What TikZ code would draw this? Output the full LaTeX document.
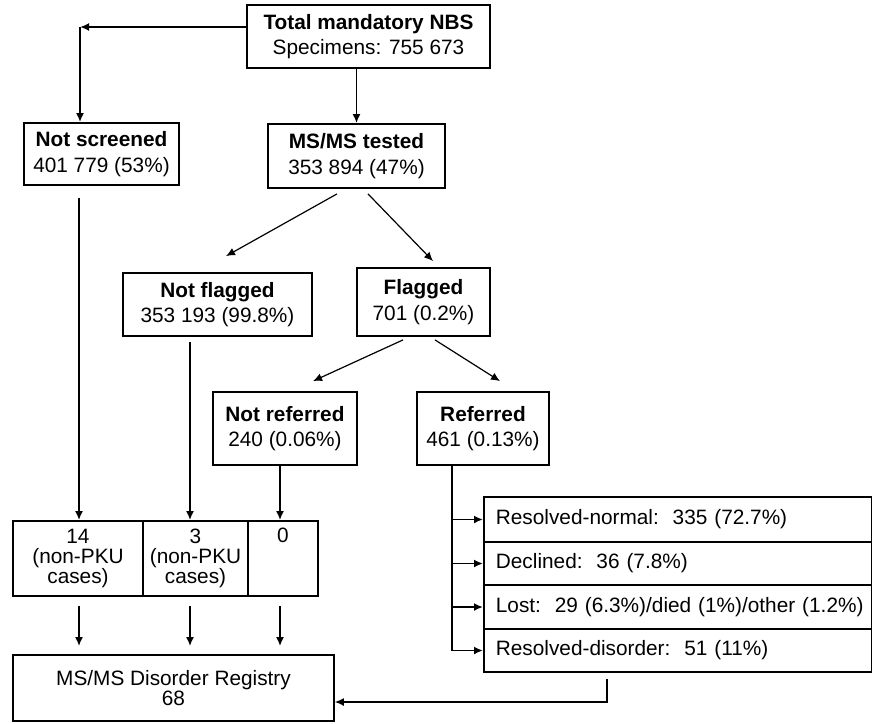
\documentclass[tikz,border=0pt]{standalone}
\usepackage{fontspec}
\setmainfont{Liberation Sans}
\usetikzlibrary{arrows.meta,calc}

\begin{document}
\begin{tikzpicture}[x=0.5pt, y=-0.5pt,
    font=\fontsize{10.4}{12.8}\selectfont,
    box/.style={draw, line width=0.9pt, inner sep=0pt, align=center},
    arr/.style={-{Latex[length=4.5pt,width=4pt]}, line width=0.9pt},
    darr/.style={-{Latex[length=4.5pt,width=4pt]}, line width=0.6pt}]
    \useasboundingbox (0,0) rectangle (872,723);

    % Draw screening boxes
    \node [box, minimum width=121.5pt, minimum height=31.5pt] (tot) at (368.5,36.5) {\textbf{Total mandatory NBS}\\Specimens: 755 673};
    \node [box, minimum width=77.5pt, minimum height=31pt] (nsc) at (101.5,154) {\textbf{Not screened}\\401 779 (53\%)};
    \node [box, minimum width=88.5pt, minimum height=32pt] (msms) at (356.5,156) {\textbf{MS/MS tested}\\353 894 (47\%)};
    \node [box, minimum width=94.5pt, minimum height=31.5pt] (nfl) at (217.5,304.5) {\textbf{Not flagged}\\353 193 (99.8\%)};
    \node [box, minimum width=66.5pt, minimum height=34pt] (fl) at (423.5,302) {\textbf{Flagged}\\701 (0.2\%)};
    \node [box, minimum width=72pt, minimum height=36.5pt] (nrf) at (285,428.5) {\textbf{Not referred}\\240 (0.06\%)};
    \node [box, minimum width=66pt, minimum height=36.5pt] (rf) at (483,428.5) {\textbf{Referred}\\461 (0.13\%)};

    % Draw case cells and registry
    \begin{scope}[font=\fontsize{10.4}{10}\selectfont]
    \node [box, minimum width=65pt, minimum height=37.5pt] (ca) at (78,558.5) {14\\(non-PKU\\cases)};
    \node [box, minimum width=52.5pt, minimum height=37.5pt] (cb) at (195.5,558.5) {3\\(non-PKU\\cases)};
    \node [box, minimum width=35pt, minimum height=37.5pt] (cc) at (283,558.5) {0\\\strut\\\strut};
    \node [box, minimum width=160.5pt, minimum height=33pt] (reg) at (173.5,688) {MS/MS Disorder Registry\\68};
    \end{scope}

    % Draw referral outcomes
    \begin{scope}[every node/.style={box, anchor=west, align=left, inner xsep=6pt, text width=182pt}]
    \node [minimum height=22.5pt] (rn) at (483,519.5) {\mbox{Resolved-normal:~~335 (72.7\%)}};
    \node [minimum height=21.5pt] (dcl) at (483,563.5) {\mbox{Declined:~~36 (7.8\%)}};
    \node [minimum height=22pt] (lst) at (483,607) {\mbox{Lost:~~29 (6.3\%)/died (1\%)/other (1.2\%)}};
    \node [minimum height=21.5pt] (rd) at (483,650.5) {\mbox{Resolved-disorder:~~51 (11\%)}};
    \end{scope}

    % Draw connectors
    \coordinate (tl) at (80,27);
    \coordinate (ka) at (79,0);
    \coordinate (kb) at (190,0);
    \coordinate (kc) at (280,0);
    \coordinate (kr) at (452,0);
    \coordinate (bk) at (607,702);

    \draw [arr] (tot.west |- tl) -- (tl);
    \draw [arr] (tl) -- (tl |- nsc.north);
    \draw [arr] (msms.north |- tot.south) -- (msms.north);

    \draw [darr] ($(msms.south)+(-19.5,5)$) -- ($(nfl.north)+(8.5,-16)$);
    \draw [darr] ($(msms.south)+(11.5,5)$) -- ($(fl.north)+(9.5,-6)$);
    \draw [darr] ($(fl.south)+(-20.5,3)$) -- ($(nrf.north)+(28,-10)$);
    \draw [darr] ($(fl.south)+(11.5,3)$) -- ($(rf.north)+(17,-10)$);

    \draw [arr] ([yshift=-6pt]ka |- nsc.south) -- (ka |- ca.north);
    \draw [arr] ([yshift=-2.5pt]kb |- nfl.south) -- (kb |- cb.north);
    \draw [arr] (kc |- nrf.south) -- (kc |- cc.north);

    \draw [arr] ([yshift=-4.5pt]ka |- ca.south) -- ([yshift=4pt]ka |- reg.north);
    \draw [arr] ([yshift=-4.5pt]kb |- cb.south) -- ([yshift=4pt]kb |- reg.north);
    \draw [arr] ([yshift=-4.5pt]kc |- cc.south) -- ([yshift=4pt]kc |- reg.north);

    \draw [line width=0.9pt] (kr |- rf.south) -- (kr |- rd.west);
    \foreach \n in {rn,dcl,lst,rd}
        \draw [arr] (kr |- \n.west) -- (\n.west);

    \draw [darr] ([yshift=-3pt]bk |- rd.south) -- (bk) -- (reg.east |- bk);

\end{tikzpicture}
\end{document}
